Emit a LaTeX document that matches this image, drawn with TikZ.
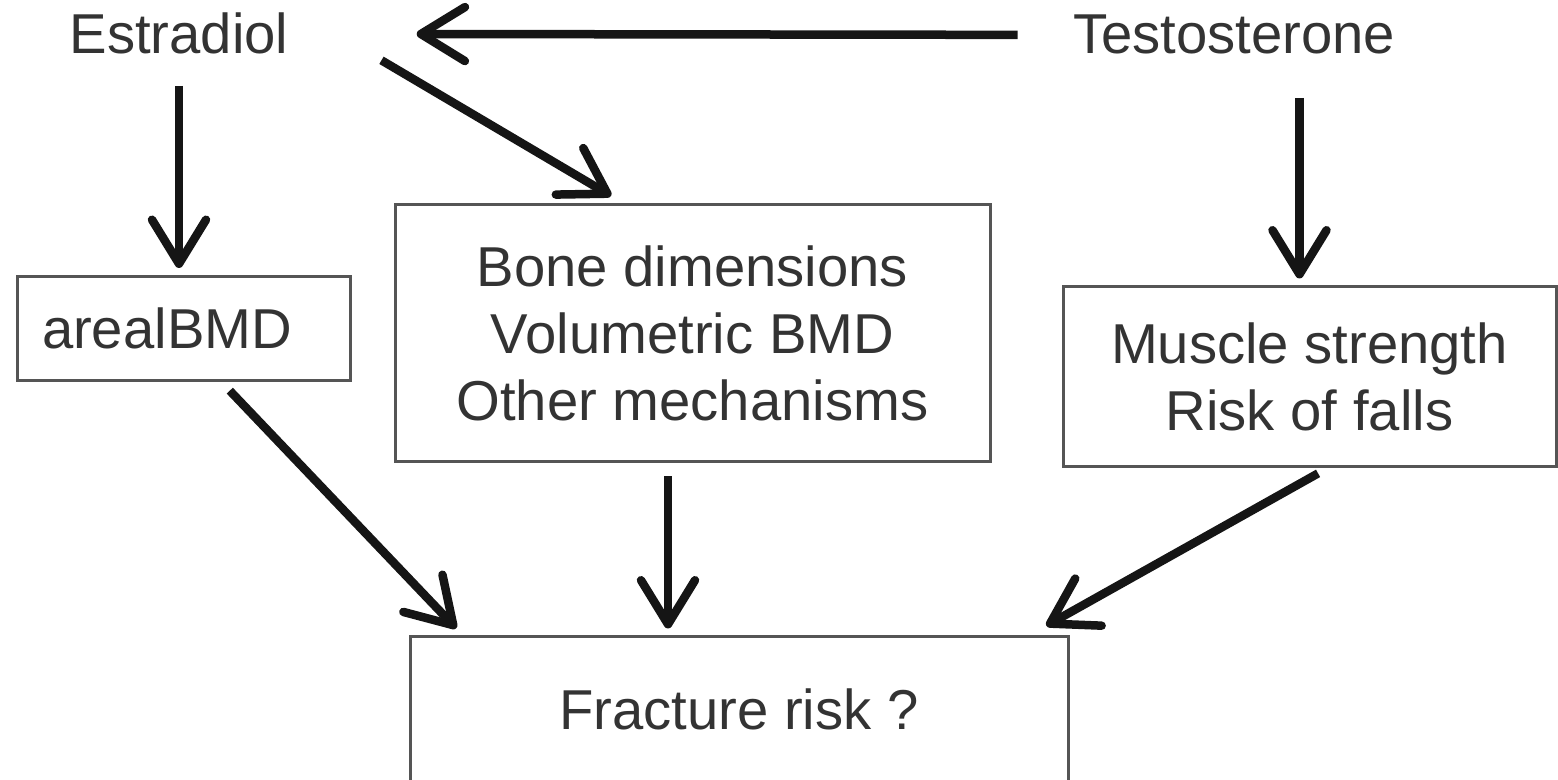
\documentclass[tikz,border=0pt]{standalone}
\usepackage{fontspec}
\setmainfont{Liberation Sans}
\usetikzlibrary{arrows.meta}

\definecolor{textgray}{HTML}{333333}
\definecolor{boxgray}{HTML}{555555}
\definecolor{arrowblack}{HTML}{151515}

\begin{document}
\begin{tikzpicture}[
	every node/.style={text=textgray, font=\fontsize{16pt}{19pt}\selectfont},
	box/.style={draw=boxgray, line width=0.03cm, rectangle, align=center},
	effect/.style={-{Straight Barb[length=4.4mm, width=5.4mm, round]},
		line width=0.085cm, draw=arrowblack},
]
	\useasboundingbox (0,0) rectangle (15.58,7.8);

	\node[anchor=base, minimum width=3.14cm] (estradiol)    at (1.79, 7.26)
		{Estradiol};
	\node[anchor=base]                       (testosterone) at (12.34, 7.26)
		{Testosterone};

	\node[box, text width=2.84cm, inner xsep=0.24cm, minimum height=1.04cm,
		align=left]                                  (areal)      at (1.84, 4.515)
		{arealBMD};
	\node[box, minimum width=5.95cm, minimum height=2.57cm] (mechanisms) at (6.925, 4.465)
		{Bone dimensions\\Volumetric BMD\\Other mechanisms};
	\node[box, minimum width=4.93cm, minimum height=1.80cm] (falls)      at (13.095, 4.03)
		{Muscle strength\\Risk of falls};
	\node[box, minimum width=6.58cm, minimum height=1.45cm] (fracture)   at (7.39, 0.705)
		{Fracture risk ?};

	\draw[effect, shorten <=0.43cm, shorten >=0.8cm] (testosterone.west) -- (estradiol.east);
	\draw[effect, shorten <=0.19cm, shorten >=0.07cm]
		(estradiol.south) -- (estradiol.south |- areal.north);
	\draw[effect, shorten <=0.52cm, shorten >=0.15cm]
		(estradiol.east) -- ([xshift=-0.685cm]mechanisms.north);
	\draw[effect, shorten <=0.31cm, shorten >=0.07cm]
		([xshift=-0.1cm]falls.north |- testosterone.south) -- ([xshift=-0.1cm]falls.north);

	\draw[effect, shorten <=0.12cm, shorten >=0.1cm]
		([xshift=0.375cm]areal.south) -- ([xshift=0.546cm]fracture.north west);
	\draw[effect, shorten <=0.13cm, shorten >=0.07cm]
		([xshift=-0.245cm]mechanisms.south) -- ([xshift=-0.245cm]mechanisms.south |- fracture.north);
	\draw[effect, shorten <=0.1cm, shorten >=0.2cm]
		([xshift=0.173cm]falls.south) -- ([xshift=-0.406cm]fracture.north east);
\end{tikzpicture}
\end{document}
